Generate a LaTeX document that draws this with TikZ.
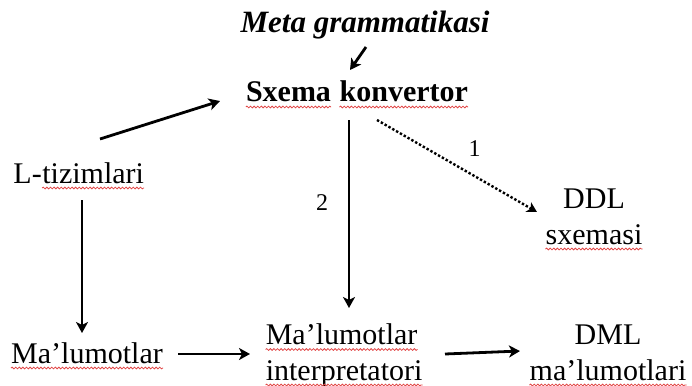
\documentclass[tikz,border=0pt]{standalone}
\usepackage{fontspec}
\setmainfont{Liberation Serif}
\usetikzlibrary{arrows.meta,calc,decorations.pathmorphing}
\definecolor{wavered}{RGB}{225,70,70}
\tikzset{wavy/.style={draw=wavered, line width=0.8pt,
  decorate, decoration={snake, amplitude=0.9pt, segment length=3.6pt}}}
\newcommand\rw[1]{\tikz[baseline=(w.base)]{\node[inner sep=0pt] (w) {#1};
  \draw[wavy] ([yshift=-5pt]w.base west) -- ([yshift=-5pt]w.base east);}}
\begin{document}
\begin{tikzpicture}[x=1pt,y=-1pt,
  txt/.style={inner sep=0pt, font=\fontsize{30}{35.5}\selectfont},
  lbl/.style={inner sep=0pt, font=\fontsize{24}{28}\selectfont},
  arr/.style={line width=2.8pt, -{Stealth[length=11pt,width=12pt,inset=3pt]}},
  darr/.style={line width=2.4pt, dotted, -{Stealth[length=10pt,width=11pt,inset=3pt]}}]
\useasboundingbox (0,0) rectangle (692,385);
\node[txt, anchor=base, font=\fontsize{31}{36}\selectfont\bfseries\itshape] (meta) at (365,33) {Meta grammatikasi};
\node[txt, anchor=base, font=\fontsize{30}{36}\selectfont\bfseries] (sk) at (357,102) {\rw{Sxema} \rw{konvertor}};
\node[txt, anchor=base] (lt) at (79,183) {L-\rw{tizimlari}};
\node[txt, anchor=base] (ml) at (87,363) {\rw{Ma’lumotlar}};
\node[txt, anchor=base west, align=left] (mi) at (265,380) {\rw{Ma’lumotlar}\\\rw{interpretatori}};
\node[txt, anchor=base, align=center] (ddl) at (594,244) {DDL\\\rw{sxemasi}};
\node[txt, anchor=base, align=center] (dml) at (608,380) {DML\\\rw{ma’lumotlari}};

\draw[arr] ($(meta.base)+(1,14)$) -- ($(sk.base)+(-7,-32)$);
\draw[arr] ($(lt.base)+(21,-44)$) -- ($(sk.base)+(-137,-1)$);
\draw[arr] ($(lt.base)+(3,17)$) -- ($(ml.base)+(-5,-30)$);
\draw[arr] ($(sk.base)+(-8,18)$) -- node[lbl, pos=0.44, xshift=-27pt] (l2) {2} ($(mi.base west)+(84,-72)$);
\draw[darr] ($(sk.base)+(20,18)$) -- node[lbl, pos=0.61, yshift=28pt] (l1) {1} ($(ddl.base)+(-57,-32)$);
\draw[arr] ($(ml.base)+(91,-9)$) -- ($(mi.base west)+(-15,-26)$);
\draw[arr] ($(mi.base west)+(180,-26)$) -- ($(dml.base)+(-88,-29)$);
\end{tikzpicture}
\end{document}
